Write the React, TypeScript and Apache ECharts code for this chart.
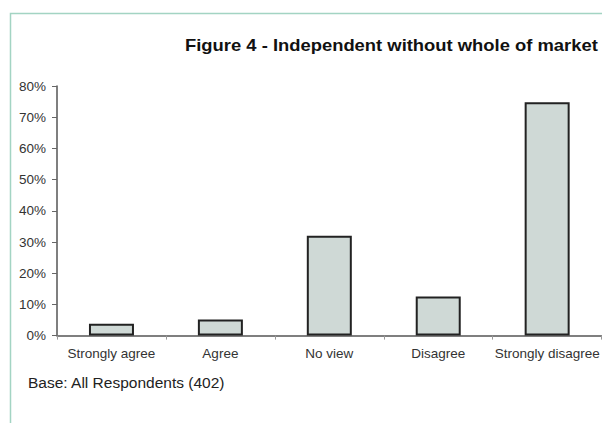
import React, { useEffect, useRef } from "react";
import * as echarts from "echarts";

// Survey response shares (percent of respondents)
const categories = ["Strongly agree", "Agree", "No view", "Disagree", "Strongly disagree"];
const shares = [3.8, 5.2, 32, 12.5, 74.8];
const yTicks = [0, 10, 20, 30, 40, 50, 60, 70, 80];

const titleText = "Figure 4 - Independent without whole of market";
const baseText = "Base: All Respondents (402)";

const FONT = "'Liberation Sans', Arial, Helvetica, sans-serif";

export default function App() {
  const ref = useRef<HTMLDivElement>(null);

  useEffect(() => {
    if (!ref.current) return;
    const chart = echarts.init(ref.current, null, { renderer: "svg" });
    chart.setOption({
      animation: false,
      backgroundColor: "#ffffff",
      textStyle: { fontFamily: FONT },
      grid: { left: 57, top: 86, width: 551.5, height: 249.6 },
      xAxis: {
        type: "category",
        data: categories,
        axisLine: { lineStyle: { color: "#555", width: 1.5 } },
        axisTick: { show: true, length: 4, lineStyle: { color: "#999" } },
        axisLabel: { color: "#333", fontSize: 13.5, fontFamily: FONT, margin: 11, interval: 0 },
      },
      yAxis: {
        type: "value",
        min: yTicks[0],
        max: yTicks[yTicks.length - 1],
        interval: 10,
        axisLine: { show: true, lineStyle: { color: "#555", width: 1.5 } },
        axisTick: { show: true, length: 5, lineStyle: { color: "#666" } },
        splitLine: { show: false },
        axisLabel: {
          color: "#333",
          fontSize: 13.5,
          fontFamily: FONT,
          margin: 11,
          formatter: (v: number) => `${v}%`,
        },
      },
      series: [
        {
          type: "bar",
          data: shares,
          barWidth: 45,
          itemStyle: { color: "#cfd9d6", borderColor: "#222", borderWidth: 2 },
        },
      ],
      graphic: [
        {
          type: "polyline",
          shape: { points: [[10.5, 423], [10.5, 13.5], [602, 13.5]] },
          style: { stroke: "#a3d4c3", lineWidth: 1.5, fill: null },
        },
        {
          type: "text",
          x: 185,
          y: 37,
          scaleX: 1.15,
          style: {
            text: titleText,
            fontSize: 16,
            fontWeight: "bold",
            fontFamily: FONT,
            fill: "#111",
          },
        },
        {
          type: "text",
          left: 28,
          top: 374,
          style: {
            text: baseText,
            fontSize: 15.5,
            fontFamily: FONT,
            fill: "#222",
          },
        },
      ],
    });
    return () => chart.dispose();
  }, []);

  return (
    <div
      ref={ref}
      style={{ position: "fixed", left: 0, top: 0, width: 602, height: 423, overflow: "hidden" }}
    />
  );
}
